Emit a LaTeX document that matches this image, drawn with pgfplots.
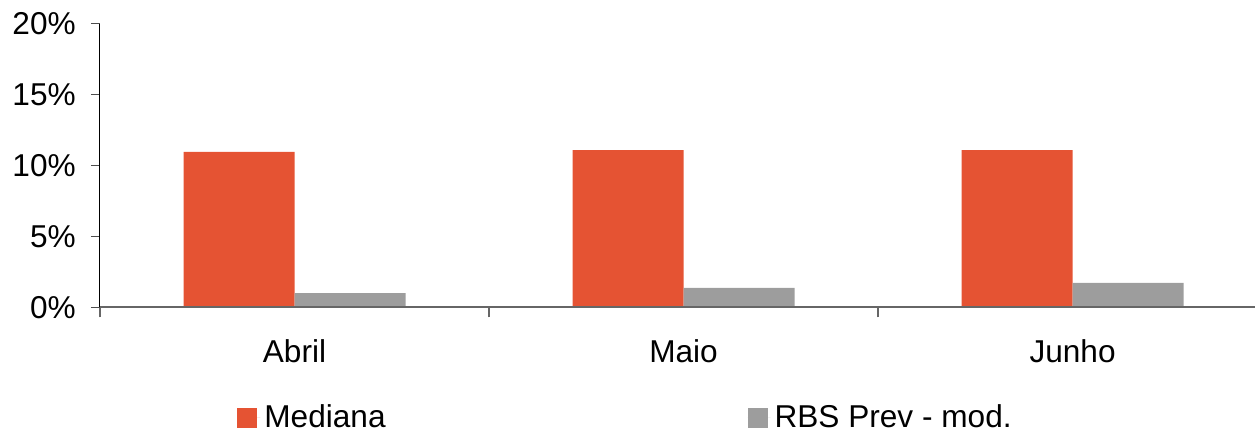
\documentclass[border=0pt]{standalone}
\usepackage{pgfplots}
\pgfplotsset{compat=1.18}
\usepackage{fontspec}
\setmainfont{Liberation Sans}
\definecolor{medred}{RGB}{229,83,51}
\definecolor{rbsgray}{RGB}{157,157,157}
\begin{document}
\begin{tikzpicture}
\begin{axis}[
  scale only axis, width=577.5pt, height=141.75pt,
  xmin=-0.5, xmax=2.469, ymin=0, ymax=20,
  axis lines=left, axis line style={-},
  x axis line style={draw=black!60, line width=1pt},
  y axis line style={draw=black, line width=0.5pt},
  axis on top,
  xtick={0,1,2}, xticklabels={Abril,Maio,Junho},
  minor xtick={-0.5,0.5,1.5},
  ytick={0,5,10,15,20},
  yticklabel={\pgfmathprintnumber{\tick}\%},
  /pgf/number format/assume math mode=true,
  tick align=outside,
  major tick length=4.5pt, minor tick length=5pt,
  major x tick style={draw=none},
  minor x tick style={draw=black!60, line width=1pt},
  y tick style={draw=black!70, line width=0.5pt},
  ticklabel style={font=\fontsize{15.8}{18}\selectfont},
  yticklabel style={xshift=-4.1pt},
  xticklabel style={yshift=-8.2pt},
  ybar, bar width=55.5pt,
  legend columns=2,
  legend style={at={(0.1186,-0.388)}, anchor=west, draw=none, fill=none,
    font=\fontsize{15.8}{18}\selectfont, inner sep=0pt,
    /tikz/every even column/.append style={column sep=179pt}},
  legend cell align=left,
  legend image code/.code={\fill[#1] (0pt,-5.5pt) rectangle (10pt,4.5pt); \path (0pt,0pt) -- (11.5pt,0pt);},
]
\addplot[fill=medred, draw=none, bar shift=-27.75pt] coordinates {(0,10.97) (1,11.11) (2,11.11)};
\addlegendentry{Mediana}
\addplot[fill=rbsgray, draw=none, bar shift=27.75pt] coordinates {(0,1.02) (1,1.38) (2,1.73)};
\addlegendentry{RBS Prev - mod.}
\end{axis}
\pgfresetboundingbox
\path[use as bounding box] ([xshift=-50pt,yshift=-61.75pt]current axis.south west) rectangle ([yshift=12pt]current axis.north east);
\end{tikzpicture}
\end{document}
